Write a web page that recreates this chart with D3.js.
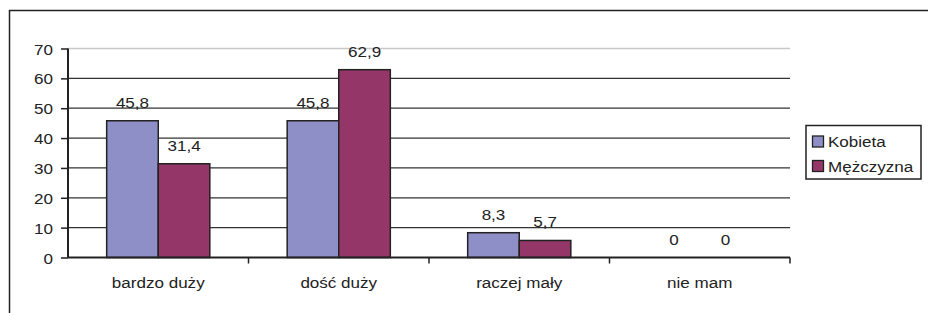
<!DOCTYPE html>
<html>
<head>
<meta charset="utf-8">
<script src="https://cdn.jsdelivr.net/npm/d3@7"></script>
<style>
  body { margin: 0; background: #fff; }
  text { font-family: "Liberation Sans", Arial, sans-serif; fill: #222; }
</style>
</head>
<body>
<svg id="chart" width="928" height="313"></svg>
<script>
const categories = ['bardzo duży', 'dość duży', 'raczej mały', 'nie mam'];
const seriesNames = ['Kobieta', 'Mężczyzna'];
const kobieta = [45.8, 45.8, 8.3, 0];
const mezczyzna = [31.4, 62.9, 5.7, 0];
const yTicks = [0, 10, 20, 30, 40, 50, 60, 70];
const colors = ['#8f8fc7', '#943768'];

const svg = d3.select('#chart');
const margin = { top: 48.5, left: 68, right: 790, bottom: 257.5 };
const fs = 15.5;
const sx = 1.1; // text in the original is slightly stretched horizontally

// place text at (x, y) with a horizontal stretch
function place(sel, fx, fy) {
  sel.attr('x', 0).attr('y', 0)
    .attr('transform', (d, i) => `translate(${fx(d, i)},${fy(d, i)}) scale(${sx},1)`);
}

// frame (top and left edge only visible)
svg.append('line').attr('x1', 9).attr('x2', 928).attr('y1', 10.5).attr('y2', 10.5)
  .attr('stroke', '#222').attr('stroke-width', 1.5);
svg.append('line').attr('x1', 9.5).attr('x2', 9.5).attr('y1', 10).attr('y2', 313)
  .attr('stroke', '#222').attr('stroke-width', 1.5);

const x0 = d3.scaleBand().domain(categories).range([margin.left, margin.right]).paddingInner(0).paddingOuter(0);
const x1 = d3.scaleBand().domain(seriesNames).range([0, x0.bandwidth()]).paddingInner(0).paddingOuter(0.75);
const y = d3.scaleLinear().domain([0, 70]).range([margin.bottom, margin.top]);

// gridlines
svg.append('g').selectAll('line').data(yTicks.filter(d => d > 0)).join('line')
  .attr('x1', margin.left).attr('x2', margin.right)
  .attr('y1', d => y(d)).attr('y2', d => y(d))
  .attr('stroke', d => d === 70 ? '#c8c8c8' : '#333')
  .attr('stroke-width', d => d === 70 ? 1.5 : 1.3);

// bars
const data = categories.map((c, i) => ({ cat: c, vals: [kobieta[i], mezczyzna[i]] }));
const groups = svg.append('g').selectAll('g').data(data).join('g')
  .attr('transform', d => `translate(${x0(d.cat)},0)`);

groups.selectAll('rect').data(d => d.vals.map((v, j) => ({ v, s: seriesNames[j], j })))
  .join('rect')
  .filter(d => d.v > 0)
  .attr('x', d => x1(d.s))
  .attr('width', x1.bandwidth())
  .attr('y', d => y(d.v))
  .attr('height', d => y(0) - y(d.v))
  .attr('fill', d => colors[d.j])
  .attr('stroke', '#222')
  .attr('stroke-width', 1.5);

groups.selectAll('text').data(d => d.vals.map((v, j) => ({ v, s: seriesNames[j] })))
  .join('text')
  .attr('text-anchor', 'middle')
  .attr('font-size', fs)
  .text(d => String(d.v).replace('.', ','))
  .call(place, d => x1(d.s) + x1.bandwidth() / 2, d => y(d.v) - 13);

// y axis
const yAxis = svg.append('g').attr('transform', `translate(${margin.left},0)`)
  .call(d3.axisLeft(y).tickValues(yTicks).tickSize(7).tickPadding(7));
yAxis.select('.domain').attr('stroke', '#222').attr('stroke-width', 2).attr('d', `M0,${margin.top}V${margin.bottom}`);
yAxis.selectAll('.tick line').attr('stroke', '#222').attr('stroke-width', 1.5);
yAxis.selectAll('.tick text')
  .attr('font-size', fs).attr('font-family', '"Liberation Sans", Arial, sans-serif').attr('fill', '#222')
  .attr('dy', null)
  .call(place, () => -15, () => 5.5);

// x axis
const xAxis = svg.append('g').attr('transform', `translate(0,${margin.bottom})`);
xAxis.append('line').attr('x1', margin.left).attr('x2', margin.right).attr('y1', 0).attr('y2', 0)
  .attr('stroke', '#222').attr('stroke-width', 2);
const bounds = categories.map(c => x0(c)).concat([margin.right]);
xAxis.selectAll('.xt').data(bounds.slice(1)).join('line')
  .attr('x1', d => d).attr('x2', d => d).attr('y1', 0).attr('y2', 6)
  .attr('stroke', '#222').attr('stroke-width', 1.5);
xAxis.selectAll('text').data(categories).join('text')
  .attr('text-anchor', 'middle')
  .attr('font-size', fs)
  .text(d => d)
  .call(place, d => x0(d) + x0.bandwidth() / 2, () => 30);

// legend
const legend = svg.append('g').attr('transform', 'translate(806,125.5)');
legend.append('rect').attr('width', 115).attr('height', 53.5)
  .attr('fill', '#fff').attr('stroke', '#222').attr('stroke-width', 1.5);
const items = legend.selectAll('g').data(seriesNames).join('g')
  .attr('transform', (d, i) => `translate(6.5,${16 + i * 24.5})`);
items.append('rect').attr('x', 0).attr('y', -5.5).attr('width', 11).attr('height', 11)
  .attr('fill', (d, i) => colors[i]).attr('stroke', '#222').attr('stroke-width', 1.3);
items.append('text').attr('font-size', fs).text(d => d)
  .call(place, () => 15.5, () => 5.5);
</script>
</body>
</html>
